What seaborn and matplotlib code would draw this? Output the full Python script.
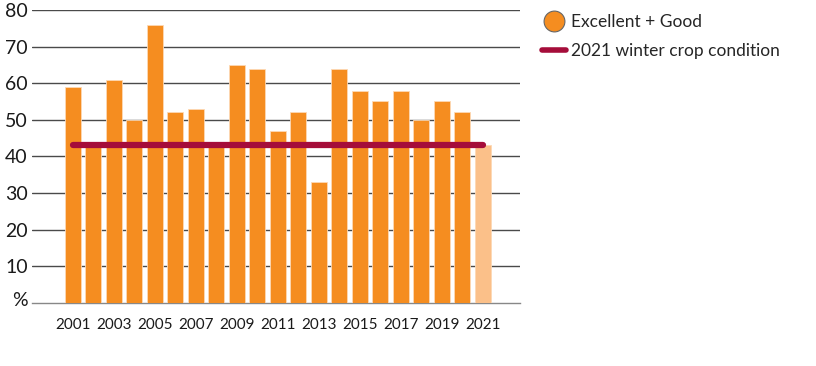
import matplotlib
matplotlib.use("Agg")
import matplotlib.pyplot as plt
from matplotlib.lines import Line2D
from matplotlib.transforms import ScaledTranslation
import seaborn as sns
import pandas as pd

years = [2001, 2002, 2003, 2004, 2005, 2006, 2007, 2008, 2009, 2010, 2011,
         2012, 2013, 2014, 2015, 2016, 2017, 2018, 2019, 2020, 2021]
excellent_good = [59, 44, 61, 50, 76, 52, 53, 44, 65, 64, 47,
                  52, 33, 64, 58, 55, 58, 50, 55, 52, 43]
condition_2021 = 43
y_ticks = [0, 10, 20, 30, 40, 50, 60, 70, 80]
y_labels = ["%", "10", "20", "30", "40", "50", "60", "70", "80"]
legend_labels = ["Excellent + Good", "2021 winter crop condition"]

ORANGE = "#F58D20"
LIGHT = "#FBC089"
CRIMSON = "#A50D3A"

sns.set_style("white")
plt.rcParams["font.family"] = ["Lato", "DejaVu Sans"]

df = pd.DataFrame({"year": [str(y) for y in years], "value": excellent_good})
palette = {str(y): (LIGHT if y == years[-1] else ORANGE) for y in years}

fig = plt.figure(figsize=(8.16, 3.66), dpi=100)
ax = fig.add_axes([0.039, 0.172, 0.598, 0.801])

sns.barplot(data=df, x="year", y="value", hue="year", palette=palette,
            legend=False, width=0.78, ax=ax, edgecolor="#FDD9B5",
            linewidth=0.6, zorder=3, saturation=1)

ax.hlines(condition_2021, 0, len(years) - 1, color=CRIMSON, lw=4.5,
          zorder=4, capstyle="round")

ax.set_ylim(0, 80)
ax.set_xlim(-2, len(years) + 0.8)
ax.set_yticks(y_ticks)
ax.set_yticklabels(y_labels)
for v in y_ticks[1:]:
    ax.axhline(v, color="#4a4a4a", lw=1.0, zorder=1)
ax.set_xticks(range(len(years)))
ax.set_xticklabels([str(y) if (y % 2 == 1) else "" for y in years])
ax.tick_params(axis="y", length=0, labelsize=14, pad=3, colors="#1a1a1a")
ax.tick_params(axis="x", length=7, width=1, color="#888888",
               labelsize=11, pad=4, colors="#1a1a1a")
ax.tick_params(axis="x", colors="#888888", labelcolor="#1a1a1a")
# lift the "%" label slightly as in the reference
lbl0 = ax.get_yticklabels()[0]
lbl0.set_transform(lbl0.get_transform() + ScaledTranslation(0, 4 / 100, fig.dpi_scale_trans))
for s in ["top", "right", "left"]:
    ax.spines[s].set_visible(False)
ax.spines["bottom"].set_color("#888888")
ax.spines["bottom"].set_linewidth(1)
ax.set_xlabel("")
ax.set_ylabel("")

handles = [
    Line2D([], [], marker="o", linestyle="none", markersize=15,
           markerfacecolor=ORANGE, markeredgecolor="#666666", markeredgewidth=0.8),
    Line2D([], [], color=CRIMSON, lw=4, solid_capstyle="round"),
]
fig.legend(handles, legend_labels, loc="upper left",
           bbox_to_anchor=(0.652, 0.99), frameon=False, fontsize=12.5,
           handlelength=1.35, handletextpad=0.3, labelspacing=0.75,
           borderaxespad=0.2)

fig.savefig("out.png", dpi=100)
